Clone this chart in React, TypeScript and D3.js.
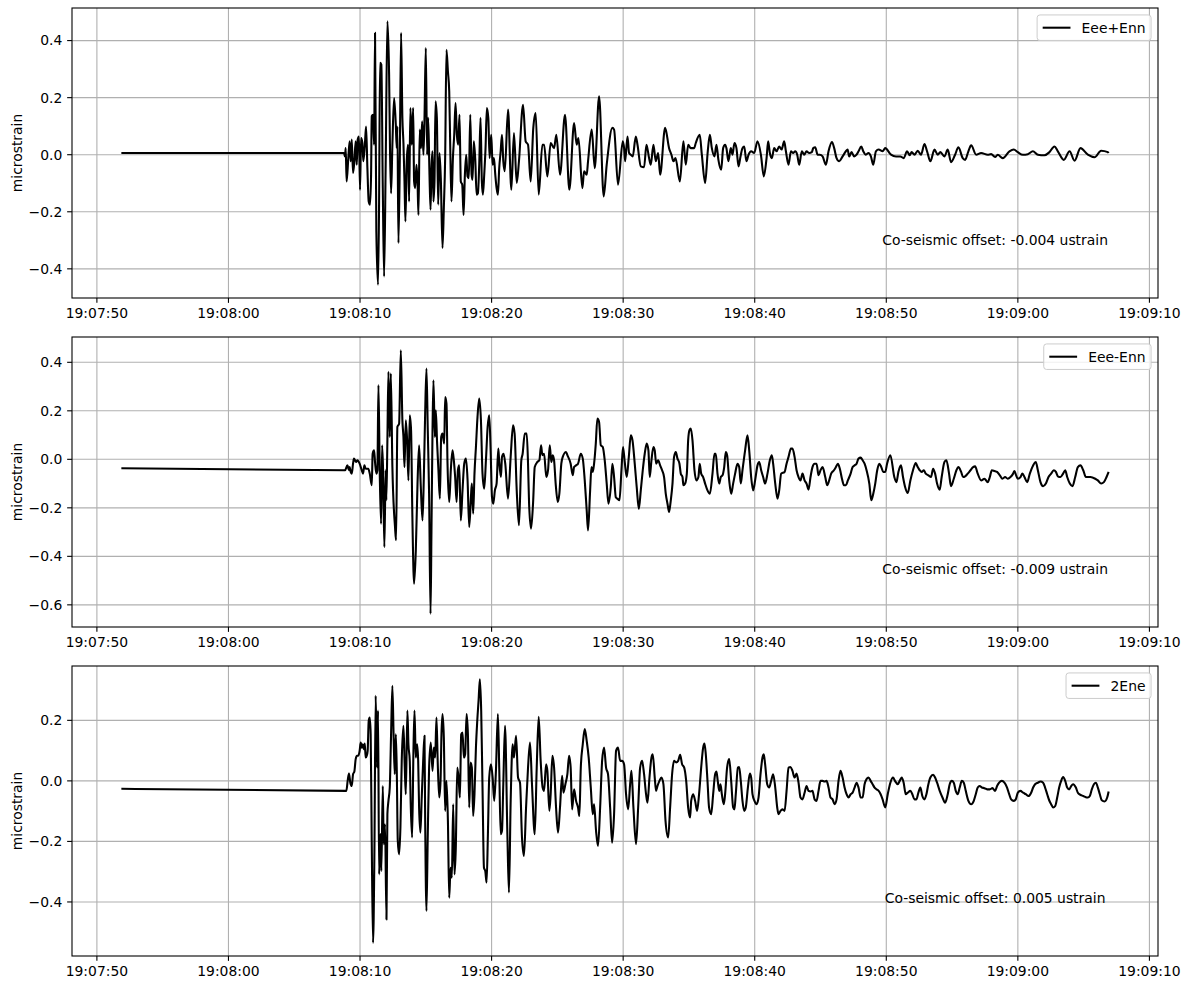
import React from 'react';
import * as d3 from 'd3';

// ---------- data (time in seconds after 19:08:00 UTC-label, value in microstrain) ----------
const BASE_MS = Date.UTC(2021, 0, 1, 19, 8, 0);

const seriesNames = ['Eee+Enn', 'Eee-Enn', '2Ene'];
const offsetLabels = [
  'Co-seismic offset: -0.004 ustrain',
  'Co-seismic offset: -0.009 ustrain',
  'Co-seismic offset: 0.005 ustrain',
];
const yTicksSum = [-0.4, -0.2, 0.0, 0.2, 0.4];
const yTicksDiff = [-0.6, -0.4, -0.2, 0.0, 0.2, 0.4];
const yTicksShear = [-0.4, -0.2, 0.0, 0.2];
const yLabel = 'microstrain';

const eeePlusEnn: [number, number][] = [
  [-8.14, 0.006], [8.78, 0.006], [8.86, -0.006], [8.91, 0.023], [8.98, -0.094], [9.11, -0.012], [9.21, 0.047], [9.29, -0.023], [9.37, 0.053], [9.47, -0.064], [9.57, -0.023], [9.67, 0.047], [9.75, -0.035], [9.82, 0.053], [9.92, 0.064], [10.0, -0.123], [10.08, 0.058], [10.18, 0.041], [10.25, -0.023], [10.36, 0.029], [10.46, 0.099], [10.56, -0.047], [10.66, -0.164], [10.76, -0.175], [10.84, -0.07], [10.89, 0.135], [10.99, 0.14], [11.07, 0.035], [11.14, 0.427], [11.24, -0.269], [11.37, -0.456], [11.45, -0.164], [11.52, 0.322], [11.62, 0.316], [11.73, -0.117], [11.83, -0.427], [11.95, -0.035], [12.08, 0.468], [12.21, 0.281], [12.28, 0.012], [12.36, -0.135], [12.46, 0.035], [12.59, 0.199], [12.72, 0.105], [12.79, 0.023], [12.84, 0.099], [12.92, -0.31], [13.02, -0.035], [13.12, 0.427], [13.22, 0.129], [13.3, 0.041], [13.38, -0.094], [13.45, -0.234], [13.55, -0.023], [13.65, 0.035], [13.73, -0.164], [13.83, 0.164], [13.93, 0.035], [14.04, 0.164], [14.11, -0.094], [14.19, -0.117], [14.29, -0.035], [14.37, -0.094], [14.44, -0.211], [14.54, 0.088], [14.64, 0.023], [14.72, 0.117], [14.82, 0.0], [14.9, 0.129], [15.0, 0.374], [15.1, 0.0], [15.18, 0.129], [15.28, -0.07], [15.36, -0.193], [15.43, -0.047], [15.51, 0.012], [15.58, -0.164], [15.66, -0.094], [15.74, 0.187], [15.84, 0.129], [15.94, -0.175], [16.04, 0.006], [16.14, -0.082], [16.27, -0.327], [16.37, -0.187], [16.47, -0.012], [16.57, 0.368], [16.68, 0.292], [16.78, 0.222], [16.85, 0.047], [16.95, -0.164], [17.06, -0.012], [17.16, 0.07], [17.26, 0.181], [17.36, 0.07], [17.46, 0.035], [17.56, 0.14], [17.66, -0.094], [17.77, -0.105], [17.87, -0.211], [17.97, -0.07], [18.07, 0.0], [18.17, -0.076], [18.27, -0.082], [18.38, 0.14], [18.48, -0.07], [18.55, -0.088], [18.65, 0.047], [18.76, -0.018], [18.86, -0.14], [18.96, -0.135], [19.06, -0.035], [19.16, 0.129], [19.26, -0.094], [19.34, -0.14], [19.44, -0.07], [19.54, 0.023], [19.64, 0.164], [19.75, 0.129], [19.85, -0.012], [19.97, 0.07], [20.08, -0.035], [20.18, -0.012], [20.28, -0.07], [20.38, -0.117], [20.48, -0.14], [20.58, -0.047], [20.69, 0.012], [20.79, 0.07], [20.89, -0.023],
  [21.0, -0.058], [21.25, 0.158], [21.5, -0.123], [21.7, 0.076], [21.91, -0.099], [22.08, -0.023], [22.39, 0.175], [22.59, 0.047], [22.77, 0.035], [22.97, -0.094], [23.17, 0.094], [23.35, 0.146], [23.58, -0.14], [23.86, 0.035], [23.99, 0.035], [24.24, -0.076], [24.49, 0.041], [24.75, 0.023], [24.92, 0.07], [25.2, -0.07], [25.58, 0.14], [25.91, -0.123], [26.27, 0.111], [26.47, 0.035], [26.6, 0.058], [26.9, -0.117], [27.03, -0.058], [27.23, -0.07], [27.33, -0.023], [27.61, 0.088], [27.84, -0.047], [28.17, 0.205], [28.52, -0.146], [28.75, -0.035], [29.18, 0.094], [29.31, 0.088], [29.61, -0.105], [29.97, 0.047], [30.07, 0.023], [30.15, -0.023], [30.33, 0.064], [30.45, 0.006], [30.58, 0.0], [30.73, -0.006], [30.96, 0.064], [31.09, 0.035], [31.34, -0.041], [31.59, -0.044], [31.77, 0.035], [31.97, -0.012], [32.1, -0.035], [32.3, 0.035], [32.48, -0.023], [32.66, 0.006], [32.81, -0.07], [33.19, 0.094], [33.49, 0.023], [33.67, 0.0], [33.82, -0.023], [33.98, -0.012], [34.31, -0.094], [34.58, 0.047], [34.76, -0.035], [34.94, 0.035], [35.14, 0.023],
  [35.39, 0.023], [35.52, 0.041], [35.82, 0.07], [35.98, 0.0], [36.23, -0.099], [36.43, 0.012], [36.59, 0.07], [36.74, 0.023], [36.94, -0.006], [37.09, 0.035], [37.24, -0.018], [37.45, -0.053], [37.6, 0.023], [37.75, 0.035], [37.85, 0.023], [38.0, -0.023], [38.18, 0.023], [38.31, 0.0], [38.46, 0.041], [38.61, 0.023], [38.77, -0.041], [38.92, -0.006], [39.07, 0.023], [39.2, 0.029], [39.37, -0.023], [39.53, 0.0], [39.73, 0.012], [39.96, 0.006], [40.21, 0.047], [40.47, 0.0], [40.69, -0.076], [40.9, -0.012], [41.02, 0.047], [41.15, 0.006], [41.3, -0.012], [41.48, 0.023], [41.66, 0.012], [41.86, 0.029], [42.04, 0.018], [42.24, 0.047], [42.37, 0.012], [42.57, -0.035], [42.75, 0.012], [42.92, 0.006], [43.08, 0.012], [43.23, 0.0], [43.38, -0.035], [43.58, 0.012], [43.76, 0.0], [43.94, 0.012], [44.14, 0.006], [44.34, 0.009], [44.45, 0.023], [44.6, 0.026], [44.78, 0.0], [44.95, 0.0], [45.16, -0.006], [45.41, -0.035], [45.61, 0.012], [45.87, 0.044], [46.04, 0.023], [46.22, -0.012], [46.42, -0.023], [46.68, -0.006], [46.93, 0.012], [47.06, 0.018], [47.18, -0.006], [47.36, 0.009], [47.56, -0.006], [47.74, 0.0], [47.89, 0.012], [48.1, 0.029], [48.25, 0.012], [48.45, 0.0], [48.65, 0.006], [48.83, -0.006], [49.01, -0.035], [49.21, 0.012], [49.42, 0.018], [49.72, 0.012], [49.92, 0.023],
  [50.36, 0.0], [50.74, -0.006], [51.07, -0.006], [51.32, -0.012], [51.58, 0.012], [51.78, -0.002], [51.93, 0.009], [52.14, 0.0], [52.39, 0.014], [52.64, 0.0], [52.9, 0.037], [53.1, 0.012], [53.35, -0.023], [53.66, 0.018], [53.91, 0.0], [54.11, 0.009], [54.42, -0.006], [54.67, 0.018], [54.92, -0.026], [55.23, 0.0], [55.48, 0.026], [55.81, -0.012], [55.99, -0.018], [56.24, 0.012], [56.45, 0.033], [56.83, 0.0], [57.21, 0.006], [57.71, 0.0], [57.97, 0.002], [58.27, -0.008], [58.47, 0.0], [58.85, -0.012], [59.36, 0.012], [59.69, 0.018], [59.99, 0.009], [60.38, 0.0], [60.76, 0.002], [61.14, 0.012], [61.52, 0.0], [62.02, -0.002], [62.4, 0.009], [62.78, 0.029], [63.04, 0.012], [63.49, -0.018], [63.93, 0.012], [64.31, -0.021], [64.76, 0.023], [65.32, 0.0], [65.83, -0.009], [66.33, 0.014], [66.84, 0.009], [66.9, 0.006],
];

const eeeMinusEnn: [number, number][] = [
  [-8.14, -0.037], [8.86, -0.045], [9.04, -0.025], [9.16, -0.045], [9.21, -0.032], [9.29, -0.052], [9.37, -0.059], [9.47, -0.018], [9.54, 0.003], [9.62, -0.004], [9.72, -0.011], [9.8, -0.004], [9.97, -0.018], [10.13, -0.045], [10.23, -0.059], [10.33, -0.025], [10.43, -0.039], [10.63, -0.039], [10.74, -0.059], [10.89, -0.107], [10.96, 0.023], [11.07, 0.037], [11.14, -0.011], [11.24, -0.059], [11.32, -0.045], [11.4, 0.306], [11.5, -0.059], [11.6, -0.266], [11.68, 0.058], [11.75, -0.039], [11.85, -0.362], [11.95, -0.045], [12.0, -0.169], [12.08, 0.078], [12.16, 0.361], [12.26, 0.092], [12.34, 0.354], [12.46, -0.032], [12.66, -0.279], [12.74, -0.334], [12.84, 0.134], [12.97, 0.147], [13.1, 0.45], [13.22, 0.161], [13.3, 0.092], [13.38, -0.032], [13.48, 0.161], [13.58, 0.078], [13.68, -0.087], [13.78, 0.182], [13.88, 0.12], [13.98, -0.238], [14.11, -0.513], [14.24, -0.376], [14.37, -0.1], [14.49, 0.058], [14.62, -0.114], [14.75, -0.252], [14.85, -0.073], [14.95, 0.189], [15.05, 0.374], [15.15, 0.12], [15.25, -0.142], [15.36, -0.637], [15.43, -0.293], [15.51, 0.12], [15.58, 0.326], [15.69, 0.092], [15.76, 0.202], [15.86, 0.065], [15.96, -0.045], [16.07, -0.162], [16.17, 0.092], [16.27, 0.106], [16.4, 0.065], [16.47, 0.257], [16.57, 0.23], [16.65, -0.018], [16.78, -0.176], [16.9, -0.045], [17.03, 0.037], [17.13, -0.004], [17.23, -0.073], [17.34, -0.176], [17.44, -0.045], [17.54, -0.025], [17.66, -0.252], [17.79, -0.128], [17.92, -0.018], [18.05, 0.003], [18.17, -0.08], [18.3, -0.279], [18.43, -0.156], [18.5, -0.1], [18.6, -0.224], [18.7, -0.059], [18.81, 0.051], [18.93, 0.175], [19.06, 0.251], [19.19, 0.161], [19.31, -0.059], [19.44, -0.121], [19.57, -0.004], [19.7, 0.134], [19.82, 0.182], [19.92, 0.051], [20.03, -0.156], [20.13, -0.183], [20.25, -0.128], [20.38, -0.1], [20.51, 0.044], [20.58, -0.011], [20.71, -0.073], [20.79, 0.01], [20.91, 0.023],
  [21.04, -0.018], [21.25, -0.162], [21.45, 0.01], [21.63, 0.14], [21.75, 0.106], [21.91, -0.128], [22.08, -0.272], [22.26, -0.004], [22.36, 0.023], [22.52, 0.106], [22.67, 0.106], [22.77, -0.018], [22.85, -0.183], [23.0, -0.286], [23.15, -0.183], [23.28, -0.032], [23.48, -0.011], [23.63, -0.004], [23.76, 0.058], [23.86, 0.017], [23.99, 0.023], [24.16, -0.073], [24.29, -0.045], [24.42, 0.058], [24.54, -0.011], [24.65, 0.017], [24.75, -0.004], [24.87, -0.1], [25.03, -0.176], [25.15, -0.142], [25.3, -0.018], [25.41, 0.01], [25.66, 0.03], [25.76, 0.017], [26.01, -0.018], [26.17, -0.066], [26.27, -0.032], [26.42, -0.025], [26.57, -0.018], [26.78, 0.023], [26.93, 0.003], [27.08, -0.087], [27.23, -0.211], [27.33, -0.293], [27.49, -0.128], [27.59, -0.032], [27.69, -0.052], [27.79, -0.018], [27.92, 0.065], [28.04, 0.168], [28.17, 0.154], [28.3, 0.058], [28.45, 0.051], [28.6, -0.004], [28.75, -0.1], [28.88, -0.183], [29.06, -0.114], [29.18, -0.018], [29.31, -0.073], [29.44, -0.156], [29.56, -0.162], [29.72, -0.169], [29.87, -0.045], [29.99, 0.051], [30.12, -0.011], [30.27, -0.073], [30.43, 0.01], [30.58, 0.099], [30.71, 0.078], [30.88, -0.018], [31.03, -0.114], [31.19, -0.204], [31.34, -0.128], [31.49, -0.045], [31.64, 0.023], [31.79, 0.065], [31.92, 0.037], [32.02, -0.073], [32.15, -0.004], [32.3, 0.051], [32.4, 0.037], [32.51, -0.018], [32.66, -0.004], [32.81, -0.025], [32.96, -0.045], [33.11, -0.073], [33.24, -0.142], [33.37, -0.183], [33.49, -0.217], [33.62, -0.169], [33.75, -0.1], [33.87, 0.01], [34.0, 0.03], [34.13, 0.003], [34.28, -0.018], [34.38, -0.059], [34.51, -0.073], [34.58, -0.107], [34.71, -0.1], [34.84, -0.059], [34.94, 0.078], [35.04, 0.12], [35.14, 0.127],
  [35.27, 0.078], [35.42, -0.045], [35.57, -0.087], [35.72, -0.073], [35.82, -0.018], [35.93, -0.059], [36.08, -0.073], [36.23, -0.1], [36.41, -0.128], [36.59, -0.142], [36.79, -0.059], [36.94, 0.023], [37.04, 0.023], [37.17, -0.059], [37.3, -0.1], [37.42, -0.073], [37.55, -0.066], [37.68, -0.032], [37.8, 0.03], [37.9, 0.017], [38.06, -0.087], [38.21, -0.142], [38.36, -0.1], [38.51, -0.059], [38.69, -0.018], [38.82, -0.032], [38.94, -0.1], [39.07, -0.045], [39.27, 0.037], [39.45, 0.099], [39.58, 0.037], [39.73, -0.073], [39.88, -0.128], [40.03, -0.087], [40.21, -0.025], [40.34, -0.011], [40.49, -0.045], [40.64, -0.073], [40.79, -0.1], [40.97, -0.059], [41.15, -0.004], [41.3, 0.017], [41.4, -0.018], [41.56, -0.1], [41.73, -0.162], [41.86, -0.128], [42.01, -0.059], [42.27, -0.052], [42.42, -0.018], [42.57, 0.01], [42.75, 0.044], [42.87, 0.044], [43.03, 0.01], [43.18, -0.045], [43.33, -0.073], [43.48, -0.087], [43.63, -0.059], [43.79, -0.087], [43.94, -0.1], [44.09, -0.125], [44.24, -0.073], [44.39, -0.032], [44.55, -0.018], [44.7, -0.018], [44.85, -0.066], [45.0, -0.045], [45.16, -0.032], [45.36, -0.073], [45.51, -0.107], [45.66, -0.087], [45.81, -0.059], [46.02, -0.045], [46.17, -0.032], [46.32, -0.018], [46.47, -0.039], [46.63, -0.08], [46.78, -0.107], [46.93, -0.107], [47.08, -0.087], [47.29, -0.059], [47.44, -0.032], [47.59, -0.025], [47.74, -0.018], [47.89, 0.003], [48.05, 0.007], [48.2, -0.004], [48.35, -0.018], [48.5, -0.045], [48.71, -0.1], [48.86, -0.169], [49.01, -0.142], [49.16, -0.1], [49.31, -0.045], [49.47, -0.018], [49.62, -0.032], [49.77, -0.052], [49.92, -0.052],
  [50.06, -0.018], [50.31, 0.017], [50.61, -0.073], [50.77, -0.094], [50.92, -0.052], [51.12, -0.025], [51.27, -0.073], [51.43, -0.114], [51.63, -0.139], [51.83, -0.087], [52.03, -0.045], [52.24, -0.015], [52.39, -0.032], [52.54, -0.045], [52.69, -0.052], [52.85, -0.045], [53.0, -0.059], [53.2, -0.066], [53.4, -0.073], [53.56, -0.039], [53.71, -0.059], [53.86, -0.1], [54.06, -0.125], [54.21, -0.073], [54.42, -0.011], [54.57, -0.004], [54.77, -0.059], [54.92, -0.111], [55.13, -0.08], [55.33, -0.045], [55.48, -0.032], [55.69, -0.052], [55.84, -0.073], [55.99, -0.07], [56.19, -0.059], [56.4, -0.045], [56.6, -0.032], [56.75, -0.029], [56.95, -0.059], [57.21, -0.087], [57.46, -0.08], [57.71, -0.094], [57.87, -0.073], [58.02, -0.045], [58.22, -0.048], [58.42, -0.052], [58.63, -0.066], [58.83, -0.08], [59.03, -0.073], [59.23, -0.08], [59.44, -0.073], [59.64, -0.059], [59.74, -0.048], [59.87, -0.066], [60.0, -0.08], [60.2, -0.073], [60.35, -0.059], [60.5, -0.073], [60.71, -0.094], [60.91, -0.059], [61.16, -0.025], [61.36, -0.011], [61.52, -0.045], [61.72, -0.094], [61.92, -0.111], [62.13, -0.1], [62.33, -0.073], [62.53, -0.059], [62.73, -0.045], [62.89, -0.052], [63.04, -0.07], [63.24, -0.073], [63.44, -0.059], [63.6, -0.045], [63.75, -0.073], [63.95, -0.1], [64.15, -0.111], [64.36, -0.073], [64.56, -0.032], [64.76, -0.025], [64.97, -0.045], [65.17, -0.073], [65.52, -0.073], [65.88, -0.08], [66.08, -0.087], [66.33, -0.1], [66.54, -0.094], [66.74, -0.073], [66.9, -0.052],
];

const twoEne: [number, number][] = [
  [-8.14, -0.026], [8.96, -0.033], [9.06, 0.0], [9.16, 0.024], [9.26, -0.006], [9.37, -0.017], [9.47, 0.022], [9.57, 0.031], [9.67, 0.072], [9.77, 0.083], [9.87, 0.083], [9.97, 0.099], [10.05, 0.127], [10.13, 0.11], [10.2, 0.121], [10.28, 0.105], [10.36, 0.123], [10.43, 0.077], [10.51, 0.083], [10.58, 0.099], [10.66, 0.198], [10.74, 0.209], [10.81, 0.154], [10.89, -0.198], [10.99, -0.535], [11.09, -0.254], [11.19, 0.281], [11.29, 0.044], [11.37, 0.232], [11.45, -0.309], [11.55, -0.176], [11.62, -0.298], [11.73, -0.017], [11.8, -0.209], [11.9, -0.143], [12.01, -0.458], [12.08, -0.11], [12.16, -0.066], [12.26, -0.022], [12.36, 0.154], [12.46, 0.314], [12.56, 0.132], [12.64, 0.022], [12.72, 0.154], [12.79, 0.044], [12.87, -0.198], [12.97, -0.243], [13.07, -0.154], [13.17, 0.066], [13.3, 0.182], [13.4, 0.044], [13.48, -0.044], [13.6, 0.232], [13.68, 0.121], [13.78, 0.066], [13.86, -0.088], [13.96, -0.187], [14.06, 0.099], [14.14, 0.232], [14.24, 0.077], [14.34, 0.121], [14.42, 0.066], [14.49, -0.088], [14.59, -0.171], [14.69, -0.055], [14.8, 0.066], [14.9, 0.149], [14.95, -0.121], [15.05, -0.43], [15.15, -0.176], [15.25, 0.044], [15.38, 0.127], [15.51, 0.033], [15.61, 0.11], [15.71, 0.077], [15.81, 0.209], [15.91, 0.055], [16.02, -0.055], [16.12, 0.0], [16.19, 0.154], [16.27, 0.221], [16.37, 0.143], [16.47, -0.099], [16.57, 0.0], [16.68, -0.132], [16.78, -0.386], [16.88, -0.287], [16.98, -0.32], [17.08, -0.077], [17.18, -0.309], [17.28, -0.221], [17.39, 0.044], [17.49, 0.011], [17.59, -0.055], [17.69, 0.154], [17.79, 0.16], [17.89, 0.077], [17.99, 0.088], [18.1, 0.221], [18.2, 0.154], [18.3, -0.088], [18.4, 0.061], [18.5, 0.044], [18.6, -0.116], [18.7, -0.044], [18.81, 0.11], [18.91, 0.198], [19.01, 0.265], [19.11, 0.336], [19.21, 0.232], [19.31, -0.022], [19.42, -0.287], [19.52, -0.298], [19.62, -0.336], [19.72, -0.176], [19.82, 0.011], [19.95, 0.055], [20.08, 0.011], [20.2, -0.066], [20.33, 0.033], [20.48, 0.221], [20.58, 0.044], [20.69, -0.176], [20.79, -0.165], [20.89, -0.011], [21.02, 0.182],
  [21.2, -0.176], [21.32, -0.369], [21.45, -0.066], [21.6, 0.121], [21.7, 0.077], [21.86, 0.149], [22.01, 0.011], [22.16, -0.006], [22.31, -0.187], [22.46, -0.248], [22.62, -0.088], [22.77, 0.044], [22.92, 0.127], [23.07, -0.011], [23.28, -0.176], [23.43, 0.044], [23.58, 0.212], [23.73, 0.066], [23.88, -0.022], [23.99, -0.033], [24.14, 0.055], [24.24, 0.033], [24.39, -0.099], [24.49, -0.044], [24.62, 0.083], [24.75, 0.044], [24.9, -0.088], [25.05, -0.171], [25.2, -0.088], [25.36, 0.017], [25.46, -0.039], [25.61, -0.011], [25.76, 0.022], [25.89, 0.083], [26.01, 0.044], [26.12, -0.094], [26.27, -0.028], [26.42, -0.066], [26.57, -0.088], [26.67, -0.116], [26.78, 0.044], [26.93, 0.121], [27.08, 0.171], [27.23, 0.132], [27.38, 0.077], [27.54, -0.022], [27.69, -0.11], [27.79, -0.077], [27.94, -0.165], [28.09, -0.215], [28.25, -0.088], [28.4, 0.066], [28.55, 0.11], [28.7, 0.044], [28.85, 0.022], [29.01, -0.088], [29.16, -0.204], [29.31, -0.11], [29.46, 0.099], [29.61, 0.11], [29.77, 0.066], [29.92, 0.066], [30.07, 0.055], [30.22, -0.044], [30.38, -0.094], [30.53, -0.011], [30.63, 0.033], [30.78, -0.088], [30.98, -0.209], [31.14, -0.088], [31.29, 0.044], [31.44, 0.066], [31.59, 0.022], [31.74, -0.044], [31.85, -0.072], [32.0, 0.011], [32.15, 0.077], [32.25, 0.088], [32.4, 0.011], [32.5, -0.033], [32.61, -0.017], [32.76, 0.0], [32.91, 0.011], [33.06, -0.011], [33.22, -0.132], [33.42, -0.187], [33.57, -0.088], [33.72, 0.022], [33.87, 0.066], [34.03, 0.061], [34.18, 0.066], [34.33, 0.086], [34.48, 0.055], [34.64, 0.044], [34.79, 0.0], [34.94, -0.088], [35.09, -0.121],
  [35.17, -0.066], [35.32, -0.044], [35.47, -0.066], [35.62, -0.099], [35.77, -0.044], [35.93, 0.044], [36.08, 0.11], [36.18, 0.123], [36.28, 0.088], [36.41, 0.0], [36.53, -0.088], [36.69, -0.11], [36.84, -0.044], [36.99, 0.022], [37.09, 0.031], [37.19, 0.0], [37.3, -0.033], [37.4, -0.011], [37.5, -0.044], [37.65, -0.077], [37.75, -0.044], [37.9, 0.044], [38.06, 0.072], [38.21, 0.0], [38.36, -0.088], [38.46, -0.094], [38.56, -0.044], [38.72, 0.044], [38.82, 0.046], [38.94, 0.0], [39.07, -0.066], [39.2, -0.099], [39.32, -0.088], [39.48, -0.022], [39.63, 0.024], [39.73, 0.011], [39.83, -0.044], [39.98, -0.066], [40.14, -0.077], [40.29, -0.055], [40.44, 0.022], [40.59, 0.077], [40.69, 0.088], [40.79, 0.055], [40.95, -0.011], [41.1, -0.022], [41.25, 0.0], [41.4, 0.022], [41.56, -0.022], [41.71, -0.088], [41.81, -0.11], [41.96, -0.099], [42.11, -0.094], [42.27, -0.099], [42.42, -0.033], [42.57, 0.044], [42.72, 0.046], [42.87, 0.033], [43.03, 0.011], [43.18, 0.024], [43.33, -0.006], [43.48, -0.055], [43.63, -0.061], [43.79, -0.039], [43.94, -0.017], [44.09, -0.033], [44.24, -0.035], [44.39, -0.033], [44.55, -0.061], [44.7, -0.066], [44.85, -0.033], [45.0, 0.0], [45.16, 0.0], [45.31, -0.002], [45.46, 0.0], [45.61, -0.022], [45.76, -0.055], [45.92, -0.061], [46.07, -0.077], [46.22, -0.061], [46.37, 0.0], [46.52, 0.033], [46.68, 0.011], [46.83, -0.022], [46.98, -0.044], [47.13, -0.055], [47.29, -0.044], [47.44, -0.039], [47.59, -0.022], [47.74, -0.006], [47.89, -0.022], [48.05, -0.055], [48.2, -0.055], [48.35, -0.011], [48.5, 0.006], [48.65, 0.011], [48.81, 0.0], [48.96, -0.011], [49.11, -0.022], [49.26, -0.028], [49.42, -0.033], [49.57, -0.044], [49.72, -0.061], [49.92, -0.088],
  [50.11, -0.044], [50.31, -0.006], [50.51, 0.011], [50.66, 0.0], [50.87, -0.011], [51.02, 0.0], [51.17, 0.011], [51.32, -0.006], [51.48, -0.044], [51.63, -0.039], [51.83, -0.033], [51.98, -0.044], [52.14, -0.061], [52.29, -0.061], [52.44, -0.039], [52.59, -0.022], [52.74, -0.05], [52.9, -0.061], [53.05, -0.044], [53.2, -0.011], [53.35, 0.011], [53.56, 0.02], [53.71, 0.011], [53.86, -0.006], [54.06, -0.033], [54.27, -0.055], [54.47, -0.072], [54.67, -0.044], [54.82, -0.011], [54.98, 0.0], [55.13, -0.006], [55.28, -0.033], [55.43, -0.044], [55.58, -0.022], [55.74, 0.0], [55.89, -0.006], [56.04, -0.033], [56.24, -0.066], [56.45, -0.077], [56.65, -0.066], [56.8, -0.044], [56.95, -0.022], [57.1, -0.017], [57.26, -0.022], [57.46, -0.024], [57.66, -0.028], [57.87, -0.028], [58.07, -0.024], [58.27, -0.033], [58.42, -0.017], [58.58, -0.006], [58.78, 0.0], [58.98, -0.006], [59.18, -0.022], [59.34, -0.044], [59.49, -0.061], [59.69, -0.066], [59.84, -0.061], [60.0, -0.039], [60.2, -0.033], [60.4, -0.039], [60.6, -0.044], [60.81, -0.05], [61.01, -0.039], [61.16, -0.022], [61.31, -0.011], [61.52, -0.006], [61.72, -0.002], [61.92, -0.006], [62.07, -0.022], [62.23, -0.044], [62.38, -0.064], [62.53, -0.077], [62.68, -0.088], [62.84, -0.083], [62.99, -0.055], [63.14, -0.022], [63.29, 0.0], [63.44, 0.013], [63.6, 0.0], [63.75, -0.022], [63.9, -0.028], [64.05, -0.017], [64.2, -0.011], [64.41, -0.022], [64.56, -0.039], [64.76, -0.046], [64.97, -0.05], [65.12, -0.053], [65.32, -0.055], [65.47, -0.05], [65.62, -0.028], [65.78, -0.011], [65.93, -0.006], [66.08, -0.022], [66.23, -0.044], [66.38, -0.064], [66.59, -0.068], [66.79, -0.055], [66.9, -0.035],
];

const allSeries = [eeePlusEnn, eeeMinusEnn, twoEne];
const allYTicks = [yTicksSum, yTicksDiff, yTicksShear];

// ---------- layout ----------
const W = 1188;
const H = 989;
const LEFT = 72;
const RIGHT = 1158;
const PANEL_TOPS = [8, 337, 666];
const PANEL_H = 290;
const FS = 13.9;
const FONT = '"DejaVu Sans", "Liberation Sans", sans-serif';
const GRID = '#b0b0b0';

const toDate = (s: number) => new Date(BASE_MS + s * 1000);

function measure(text: string): number {
  const ctx = document.createElement('canvas').getContext('2d');
  if (!ctx) return text.length * 8.5;
  ctx.font = `${FS}px "DejaVu Sans"`;
  return ctx.measureText(text).width;
}

function padExtent(lo: number, hi: number): [number, number] {
  const m = (hi - lo) * 0.05;
  return [lo - m, hi + m];
}

const allTimes = allSeries.flatMap((s) => s.map((d) => d[0]));
const [tLo, tHi] = padExtent(d3.min(allTimes)!, d3.max(allTimes)!);
const xScale = d3.scaleUtc().domain([toDate(tLo), toDate(tHi)]).range([LEFT, RIGHT]);
const xTicks = xScale.ticks(d3.utcSecond.every(10)!);
const fmtTime = d3.utcFormat('%H:%M:%S');
const fmtY = d3.format('.1f');

function Panel({ idx }: { idx: number }) {
  const data = allSeries[idx];
  const top = PANEL_TOPS[idx];
  const bottom = top + PANEL_H;
  const vals = data.map((d) => d[1]);
  const [yLo, yHi] = padExtent(d3.min(vals)!, d3.max(vals)!);
  const y = d3.scaleLinear().domain([yLo, yHi]).range([bottom, top]);
  const line = d3
    .line<[number, number]>()
    .x((d) => xScale(toDate(d[0])))
    .y((d) => y(d[1]))
    .curve(d3.curveMonotoneX);
  const yTicks = allYTicks[idx];
  const name = seriesNames[idx];
  const tw = measure(name);
  const bp = 0.4 * FS;
  const boxW = bp + 2.0 * FS + 0.8 * FS + tw + bp;
  const boxH = 25.5;
  const boxRight = RIGHT - 0.5 * FS;
  const boxTop = top + 0.5 * FS;
  const boxLeft = boxRight - boxW;
  const midY = boxTop + boxH / 2;

  return (
    <g>
      <defs>
        <clipPath id={`clip${idx}`}>
          <rect x={LEFT} y={top} width={RIGHT - LEFT} height={PANEL_H} />
        </clipPath>
      </defs>
      {/* grid */}
      {xTicks.map((t, i) => (
        <line key={`gx${i}`} x1={xScale(t)} x2={xScale(t)} y1={top} y2={bottom} stroke={GRID} strokeWidth={1.1} />
      ))}
      {yTicks.map((v, i) => (
        <line key={`gy${i}`} x1={LEFT} x2={RIGHT} y1={y(v)} y2={y(v)} stroke={GRID} strokeWidth={1.1} />
      ))}
      {/* data */}
      <path
        d={line(data) || ''}
        fill="none"
        stroke="#000"
        strokeWidth={2.08}
        strokeLinejoin="round"
        clipPath={`url(#clip${idx})`}
      />
      {/* spines */}
      <rect x={LEFT} y={top} width={RIGHT - LEFT} height={PANEL_H} fill="none" stroke="#000" strokeWidth={1.1} />
      {/* x ticks */}
      {xTicks.map((t, i) => (
        <g key={`xt${i}`}>
          <line x1={xScale(t)} x2={xScale(t)} y1={bottom} y2={bottom + 4.86} stroke="#000" strokeWidth={1.1} />
          <text x={xScale(t)} y={bottom + 9.7} dy="0.76em" textAnchor="middle" fontFamily={FONT} fontSize={FS}>
            {fmtTime(t)}
          </text>
        </g>
      ))}
      {/* y ticks */}
      {yTicks.map((v, i) => (
        <g key={`yt${i}`}>
          <line x1={LEFT - 4.86} x2={LEFT} y1={y(v)} y2={y(v)} stroke="#000" strokeWidth={1.1} />
          <text x={LEFT - 9.7} y={y(v)} dy="0.35em" textAnchor="end" fontFamily={FONT} fontSize={FS}>
            {fmtY(v)}
          </text>
        </g>
      ))}
      {/* y label */}
      <text
        transform={`translate(17.5, ${(top + bottom) / 2}) rotate(-90)`}
        textAnchor="middle"
        dy="0.35em"
        fontFamily={FONT}
        fontSize={FS}
      >
        {yLabel}
      </text>
      {/* offset annotation */}
      <text
        x={LEFT + 0.85 * (RIGHT - LEFT)}
        y={bottom - 0.2 * PANEL_H}
        dy="0.35em"
        textAnchor="middle"
        fontFamily={FONT}
        fontSize={FS}
      >
        {offsetLabels[idx]}
      </text>
      {/* legend */}
      <rect
        x={boxLeft}
        y={boxTop}
        width={boxW}
        height={boxH}
        rx={2.8}
        fill="#fff"
        fillOpacity={0.8}
        stroke="#cccccc"
        strokeWidth={1}
      />
      <line x1={boxLeft + bp} x2={boxLeft + bp + 2 * FS} y1={midY} y2={midY} stroke="#000" strokeWidth={2.08} />
      <text x={boxLeft + bp + 2.8 * FS} y={midY} dy="0.35em" fontFamily={FONT} fontSize={FS}>
        {name}
      </text>
    </g>
  );
}

export default function App() {
  return (
    <svg
      width={W}
      height={H}
      viewBox={`0 0 ${W} ${H}`}
      style={{ position: 'absolute', left: 0, top: 0, background: '#fff' }}
    >
      <rect x={0} y={0} width={W} height={H} fill="#fff" />
      {[0, 1, 2].map((i) => (
        <Panel key={i} idx={i} />
      ))}
    </svg>
  );
}
